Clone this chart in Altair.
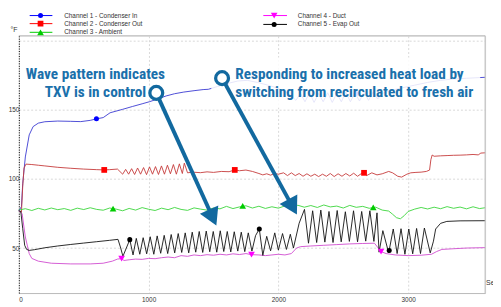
import altair as alt
import pandas as pd

# ---------------- data ----------------
CHANNELS = ["Channel 1 - Condenser In", "Channel 2 - Condenser Out", "Channel 3 - Ambient",
            "Channel 4 - Duct", "Channel 5 - Evap Out"]
LINE_COLORS = ["#3a3ad2", "#c63a3a", "#39d539", "#d04ad0", "#111111"]
MARK_COLORS = ["#0000ff", "#ff0000", "#00cc00", "#ff00ff", "#000000"]
SHAPES = ["circle", "square", "triangle-up", "triangle-down", "circle"]
MARK_SIZES = [26, 34, 46, 46, 26]

X_TICKS = [0, 1000, 2000, 3000]
Y_TICKS = [50, 100, 150, 200]

# Channel 1 - Condenser In
ch1_x = [0, 20, 30, 50, 80, 110, 150, 200, 300, 400, 477, 550, 598, 650, 703, 800, 877, 950, 1006,
         1070, 1135, 1200, 1271, 1350, 1420, 1460, 1530, 1600, 1687, 1760, 1838, 1920, 1989, 2060,
         2103, 2135, 2170, 2205, 2240, 2275, 2310, 2345, 2380, 2415, 2450, 2485, 2520, 2555, 2590,
         2625, 2660, 2695, 2730, 2765, 2800, 2860, 2950, 3050, 3150, 3250, 3350, 3450, 3593]
ch1_y = [77, 80, 97, 116, 132, 138, 140.5, 141.5, 142, 141.8, 141.6, 142.5, 143.6, 144.5, 148,
         150.5, 152.6, 154.5, 156, 158, 160.2, 161.8, 163, 164, 164.8, 165, 167, 169, 171, 171.5,
         170, 168, 166, 163, 160, 157, 162, 156, 162.5, 155.5, 162, 156, 162.5, 155.5, 162, 156,
         163, 156, 162.5, 156.5, 163, 157, 163, 158, 162, 164, 166, 168, 170, 171.5, 172.5, 173,
         173.7]

# Channel 2 - Condenser Out
ch2_x = [0, 20, 30, 40, 55, 100, 150, 200, 300, 400, 500, 600, 658, 700, 760, 800, 823, 846, 869,
         892, 915, 938, 961, 984, 1007, 1030, 1053, 1076, 1099, 1122, 1145, 1168, 1191, 1214, 1237,
         1260, 1275, 1300, 1340, 1400, 1450, 1500, 1560, 1620, 1664, 1700, 1750, 1800, 1850, 1880,
         1910, 1940, 1970, 2000, 2040, 2070, 2100, 2130, 2160, 2190, 2220, 2250, 2280, 2310, 2340,
         2370, 2400, 2430, 2460, 2490, 2520, 2550, 2580, 2610, 2640, 2660, 2680, 2720, 2760, 2800,
         2850, 2880, 2920, 2950, 2990, 3020, 3060, 3100, 3140, 3165, 3175, 3185, 3200, 3250, 3300,
         3350, 3400, 3450, 3500, 3540, 3560, 3593]
ch2_y = [77, 76, 95, 108, 110.8, 110.5, 110, 109.5, 108.5, 107.8, 107.2, 106.8, 106.6, 106.8,
         107.2, 103.5, 107, 103.5, 107.5, 103.3, 108, 103.5, 108.3, 103.2, 108.8, 103.5, 109,
         103.3, 109.5, 103.5, 110, 103.8, 110.5, 103.5, 111, 104, 111.5, 104.5, 105, 104.6, 105.2,
         104.8, 105.5, 105.3, 106.6, 106, 106.5, 105.5, 104, 103, 103.8, 102.8, 104, 103.5, 104.5,
         102.5, 104.5, 102.5, 104, 102, 103.8, 102, 103.5, 101.8, 103.5, 102, 104, 101.8, 103.8,
         102, 104, 102.2, 104.2, 102, 104, 104.5, 102.5, 104.5, 103, 103.8, 105.5, 104.5, 102,
         101.4, 103.5, 104.5, 104.8, 105, 105.5, 106.5, 114, 117.4, 116.5, 116.8, 117, 117.2,
         117.3, 117.5, 117.8, 117.5, 118.8, 119]

# Channel 3 - Ambient
ch3_x = [0, 50, 100, 150, 200, 250, 300, 350, 400, 450, 500, 550, 600, 650, 700, 750, 800, 850,
         900, 950, 1000, 1050, 1100, 1150, 1200, 1250, 1300, 1350, 1400, 1450, 1500, 1550, 1600,
         1650, 1700, 1750, 1800, 1850, 1900, 1950, 2000, 2050, 2100, 2150, 2200, 2250, 2300, 2350,
         2400, 2450, 2500, 2550, 2600, 2650, 2700, 2750, 2800, 2850, 2880, 2910, 2940, 2970, 3000,
         3050, 3100, 3150, 3200, 3250, 3300, 3350, 3400, 3450, 3500, 3550, 3593]
ch3_y = [77.5, 78.5, 77.2, 78.8, 77.6, 79.0, 77.8, 78.6, 77.3, 78.9, 77.9, 79.2, 78.0, 77.4, 79.0,
         78.2, 77.0, 78.7, 77.5, 79.3, 78.1, 77.2, 78.9, 77.8, 79.4, 78.0, 77.3, 79.1, 78.2, 77.5,
         79.0, 78.4, 80.2, 78.6, 79.8, 80.6, 79.0, 80.3, 78.7, 79.9, 78.9, 80.5, 79.2, 81.0, 79.6,
         80.8, 79.4, 81.2, 79.8, 80.4, 79.0, 80.9, 79.5, 80.2, 78.8, 79.6, 77.5, 76.8, 74.5, 72.0,
         71.2, 73.5, 76.5, 78.2, 79.4, 78.3, 79.6, 78.5, 80.0, 78.8, 79.7, 78.4, 79.9, 78.6, 79.2]

# Channel 4 - Duct
ch4_x = [0, 25, 50, 80, 100, 150, 250, 400, 550, 650, 720, 760, 792, 810, 850, 900, 950, 1000,
         1050, 1100, 1150, 1200, 1250, 1300, 1350, 1400, 1450, 1500, 1550, 1600, 1650, 1700, 1750,
         1793, 1850, 1900, 1950, 2000, 2050, 2100, 2140, 2170, 2250, 2350, 2450, 2550, 2650, 2740,
         2770, 2791, 2830, 2900, 3000, 3100, 3180, 3220, 3260, 3350, 3450, 3593]
ch4_y = [77, 75, 58, 46, 42.5, 40.5, 39, 38.5, 38.5, 39, 40.5, 42, 42.4, 41, 41.5, 42, 41.8, 42.5,
         42.3, 43, 43.5, 43, 44.5, 44, 45, 44.5, 45.2, 44.8, 45.5, 45, 45.8, 45.3, 46, 45.2, 45,
         44.5, 45, 45.5, 45, 46, 50, 51, 51.5, 52, 52.5, 53, 53.3, 53.5, 50, 47.4, 46, 45, 44.5,
         44.8, 45.5, 47.5, 49, 49.5, 50, 50.3]

# Channel 5 - Evap Out
ch5_x = [0, 15, 30, 45, 60, 80, 120, 200, 300, 400, 500, 600, 700, 764, 785, 802, 855, 880, 905,
         932, 958, 985, 1012, 1040, 1066, 1093, 1120, 1147, 1174, 1201, 1228, 1255, 1282, 1309,
         1336, 1363, 1390, 1417, 1444, 1471, 1498, 1525, 1552, 1579, 1606, 1633, 1660, 1687, 1714,
         1741, 1768, 1796, 1824, 1853, 1880, 1910, 1940, 1972, 2000, 2032, 2062, 2092, 2116, 2160,
         2201, 2232, 2264, 2295, 2327, 2358, 2390, 2421, 2453, 2484, 2516, 2547, 2579, 2610, 2642,
         2673, 2705, 2736, 2760, 2776, 2805, 2850, 2885, 2915, 2945, 2975, 3005, 3035, 3065, 3095,
         3125, 3170, 3195, 3212, 3250, 3298, 3400, 3593]
ch5_y = [77, 76.5, 64, 52, 49, 48.3, 48.8, 50.2, 51.5, 52.6, 53.6, 54.6, 55.6, 56.3, 50, 44, 56.1,
         45, 57, 45.5, 57.5, 45.8, 58.2, 45.5, 58.8, 46.2, 59.2, 46, 59.8, 46.5, 60.5, 46.8, 61,
         46.5, 61.5, 47, 62, 46.8, 62.3, 47.3, 62, 47, 62.5, 47.5, 62, 47.2, 61.8, 47.8, 61.5,
         47.4, 61, 47.8, 59, 63.8, 44.7, 58.5, 48, 61, 48.5, 60.5, 49, 60, 50, 68, 78, 53.5, 77,
         54, 77.5, 54.3, 76.5, 54, 77.2, 54.5, 76.3, 54.8, 77, 54.5, 76.5, 55, 77, 54.8, 75.5, 47,
         62.6, 46.5, 63.8, 46, 64, 45.5, 63.8, 45.8, 64.2, 46, 64.5, 46.5, 55, 63.8, 67.9, 69.3,
         69.7, 69.8]

# periodic channel markers (x, y) per channel
mk_x = [[598, 1598, 2598], [658, 1664, 2660], [726, 1725, 2731], [792, 1793, 2791], [855, 1853, 2854]]
mk_y = [[143.6, 169, 162], [106.6, 106.6, 104.5], [78.5, 80.5, 79.5], [42.4, 45.2, 47.4], [56.1, 63.8, 48.3]]

# annotations
note1 = ["Wave pattern indicates", "TXV is in control"]
note2 = ["Responding to increased heat load by", "switching from recirculated to fresh air"]
note1_x, note2_x = 590, 1668
note_y = [172.7, 159.5]
ring_x = [1059, 1566]
ring_y = [162.4, 173.1]
head_x = [1494, 2110]
head_y = [72.1, 79.8]
head_angle = [155.5, 151.2]
fade_box = {"x": [1483], "x2": [3555], "y": [151.6], "y2": [188]}

# ---------------- styling / layout ----------------
W, H = 473, 261
PAD_L = 11
X_DOMAIN = [0, 3593]
Y_DOMAIN = [17.4, 203.8]
ANN = "#12699f"
ANN_TXT = "#1a70ab"
NOTE_FONT = "Liberation Sans Narrow, Roboto Condensed, DejaVu Sans Condensed, sans-serif"
SMALL_FONT = "Liberation Sans, Arial, sans-serif"

xs = alt.Scale(domain=X_DOMAIN, nice=False, zero=False)
ys = alt.Scale(domain=Y_DOMAIN, nice=False, zero=False)
X = alt.X("x:Q", scale=xs, title=None,
          axis=alt.Axis(values=X_TICKS, format="d", labelFontSize=6.5, labelColor="#333",
                        labelFont=SMALL_FONT, tickSize=0, labelPadding=4, domainColor="#bbbbbb",
                        domainWidth=1, gridColor="#d8d8d8", gridDash=[2, 2],
                        gridOpacity={"condition": {"test": "datum.value === 0", "value": 0}, "value": 1}))
Y = alt.Y("y:Q", scale=ys, title=None,
          axis=alt.Axis(values=Y_TICKS, labelFontSize=6.5, labelColor="#333", labelFont=SMALL_FONT,
                        labelExpr="datum.value == 200 ? '' : datum.label",
                        tickSize=0, labelPadding=0, domainColor="#000", domainDash=[1, 1.5],
                        domainWidth=1, gridColor="#d8d8d8", gridDash=[2, 2]))

series = [(ch1_x, ch1_y), (ch2_x, ch2_y), (ch3_x, ch3_y), (ch4_x, ch4_y), (ch5_x, ch5_y)]
rows = []
for name, (sx, sy) in zip(CHANNELS, series):
    for i, (a, b) in enumerate(zip(sx, sy)):
        rows.append({"ch": name, "x": a, "y": b, "i": i})
lines_df = pd.DataFrame(rows)

lines = alt.Chart(lines_df).mark_line(strokeWidth=0.9).encode(
    x=X, y=Y,
    color=alt.Color("ch:N", scale=alt.Scale(domain=CHANNELS, range=LINE_COLORS), legend=None),
    order="i:Q")

layers = [lines]
for k in range(5):
    mdf = pd.DataFrame({"x": mk_x[k], "y": mk_y[k]})
    layers.append(alt.Chart(mdf).mark_point(shape=SHAPES[k], filled=True, fill=MARK_COLORS[k],
                                            size=MARK_SIZES[k], opacity=1, strokeWidth=0)
                  .encode(x=X, y=Y))

# fade box behind second note
layers.append(alt.Chart(pd.DataFrame(fade_box)).mark_rect(fill="white", opacity=0.86)
              .encode(x=X, x2="x2:Q", y=Y, y2="y2:Q"))

# arrow shafts
shaft_df = pd.DataFrame({"x": ring_x, "y": ring_y, "x2": head_x, "y2": head_y})
layers.append(alt.Chart(shaft_df).mark_rule(color=ANN, strokeWidth=4)
              .encode(x=X, y=Y, x2="x2:Q", y2="y2:Q"))
# arrow heads
head_df = pd.DataFrame({"x": head_x, "y": head_y, "a": head_angle})
layers.append(alt.Chart(head_df).mark_point(shape="triangle-up", filled=True, fill=ANN, size=420,
                                            opacity=1, strokeWidth=0)
              .encode(x=X, y=Y, angle=alt.Angle("a:Q", scale=None)))
# rings
ring_df = pd.DataFrame({"x": ring_x, "y": ring_y})
layers.append(alt.Chart(ring_df).mark_point(shape="circle", filled=True, fill="white", stroke=ANN,
                                            strokeWidth=3.3, size=170, opacity=1)
              .encode(x=X, y=Y))
# notes
n1 = pd.DataFrame({"x": [note1_x] * 2, "y": note_y, "t": note1})
n2 = pd.DataFrame({"x": [note2_x] * 2, "y": note_y, "t": note2})
for df_, al in [(n1, "center"), (n2, "left")]:
    layers.append(alt.Chart(df_).mark_text(align=al, baseline="alphabetic", font=NOTE_FONT,
                                           fontSize=15.5, fontWeight="bold", color=ANN_TXT)
                  .encode(x=X, y=Y, text="t:N"))

one = pd.DataFrame({"a": [0]})
# top and right frame
layers.append(alt.Chart(one).mark_rule(color="#bbbbbb", strokeWidth=1)
              .encode(x=alt.value(0), x2=alt.value(W), y=alt.value(0)))
layers.append(alt.Chart(one).mark_rule(color="#bbbbbb", strokeWidth=1)
              .encode(x=alt.value(W), y=alt.value(0), y2=alt.value(H)))
# unit labels
layers.append(alt.Chart(one).mark_text(text="°F", fontSize=7, font=SMALL_FONT, color="#333",
                                       align="center", baseline="middle")
              .encode(x=alt.value(-5), y=alt.value(-6)))
layers.append(alt.Chart(one).mark_text(text="Seconds", fontSize=7, font=SMALL_FONT, color="#333",
                                       align="left", baseline="middle")
              .encode(x=alt.value(W + 1), y=alt.value(H - 10)))

# legend (two columns)
LEG_POS = [(11, 34, 22, 46, -20.5), (11, 34, 22, 46, -12.3), (11, 34, 22, 46, -3.5),
           (248, 272, 259, 283, -20.5), (248, 272, 259, 283, -11.5)]
for k, (l0, l1, lm, lt, ly) in enumerate(LEG_POS):
    layers.append(alt.Chart(one).mark_rule(color=MARK_COLORS[k], strokeWidth=1)
                  .encode(x=alt.value(l0), x2=alt.value(l1), y=alt.value(ly)))
    layers.append(alt.Chart(one).mark_point(shape=SHAPES[k], filled=True, fill=MARK_COLORS[k],
                                            size=MARK_SIZES[k], opacity=1, strokeWidth=0)
                  .encode(x=alt.value(lm), y=alt.value(ly)))
    layers.append(alt.Chart(one).mark_text(text=CHANNELS[k], fontSize=6.5, font=SMALL_FONT,
                                           color="#333", align="left", baseline="middle")
                  .encode(x=alt.value(lt), y=alt.value(ly)))

chart = alt.layer(*layers).properties(
    width=W, height=H,
    autosize=alt.AutoSizeParams(type="none"),
    padding={"left": PAD_L, "top": 26, "right": 8, "bottom": 12},
).configure_view(stroke=None).configure(background="white")

chart.save("out.html", embed_options={"renderer": "svg", "actions": False})
